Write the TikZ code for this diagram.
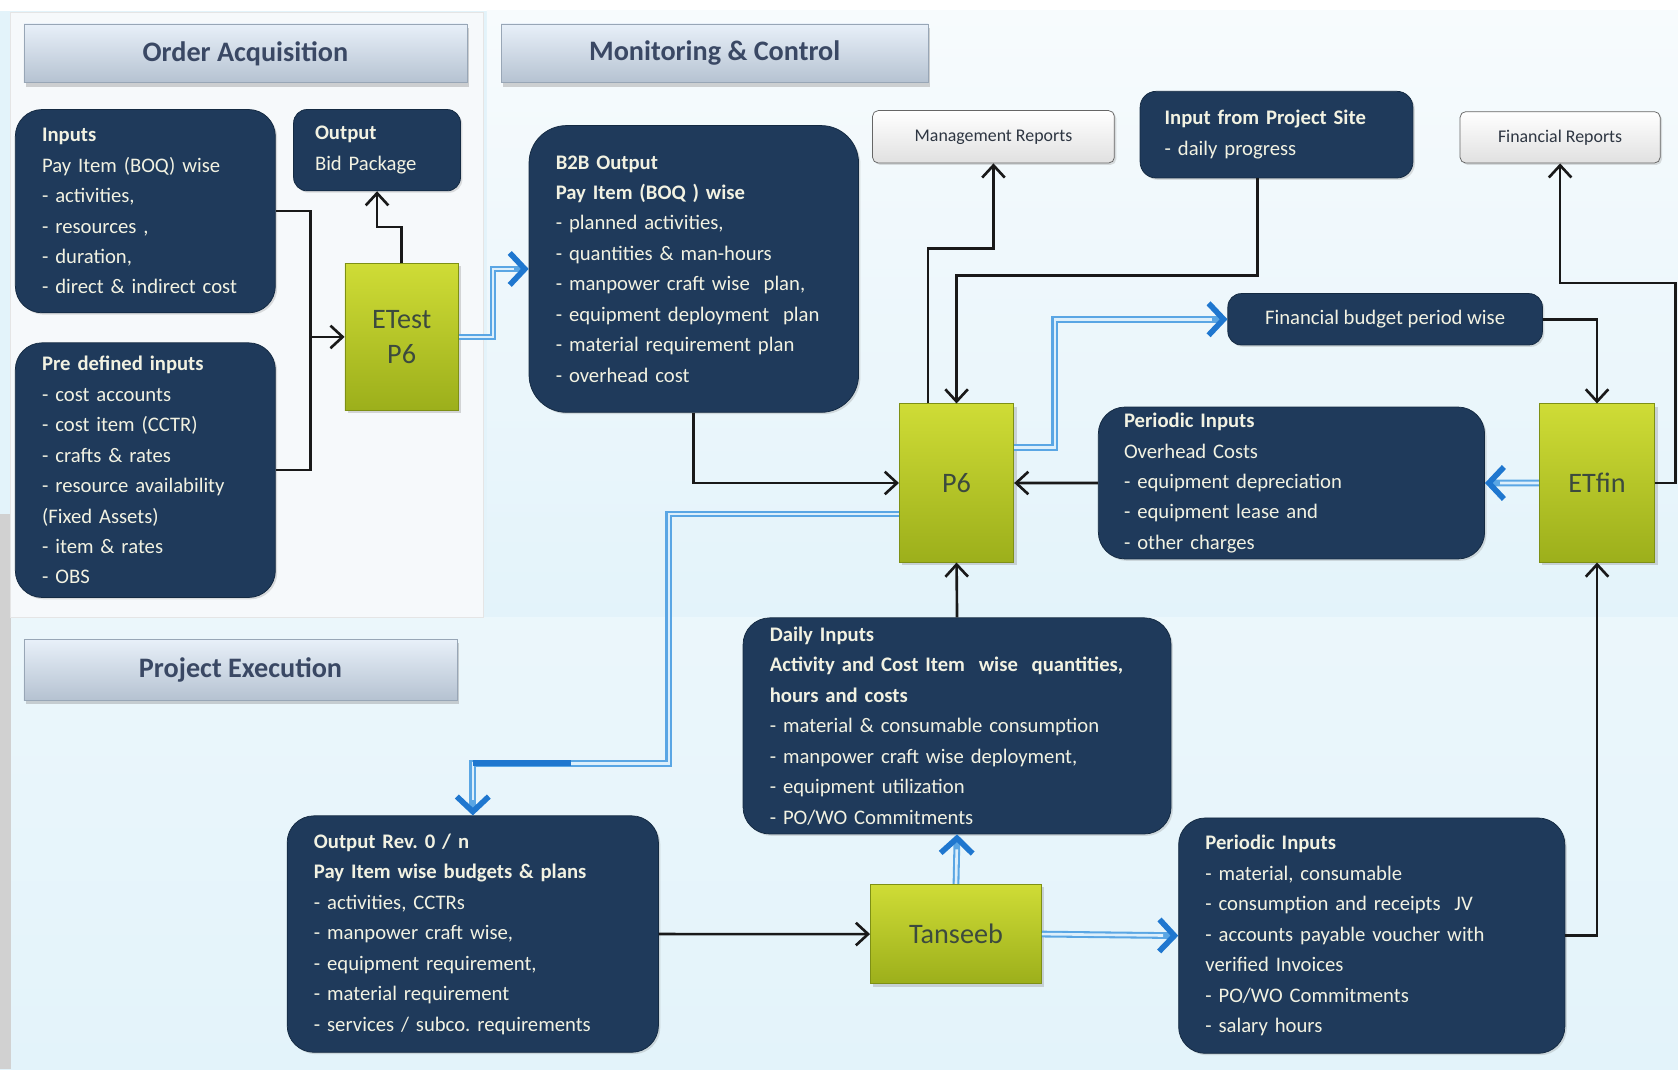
\documentclass[tikz,border=0pt]{standalone}
\usepackage{fontspec}
\setmainfont{Carlito}
\usetikzlibrary{arrows.meta,shadows}
\frenchspacing

\definecolor{boxblue}{HTML}{1F3A5B}
\definecolor{boxline}{HTML}{142A42}
\definecolor{boxtext}{HTML}{F2F2E2}
\definecolor{greentop}{HTML}{CFDC36}
\definecolor{greenbot}{HTML}{9CAF1B}
\definecolor{greenline}{HTML}{7E9015}
\definecolor{greentext}{HTML}{3C4A3E}
\definecolor{headtop}{HTML}{E8F0F9}
\definecolor{headbot}{HTML}{B5C2D1}
\definecolor{headline}{HTML}{98A6B6}
\definecolor{headtext}{HTML}{3A4864}
\definecolor{reptext}{HTML}{2E3642}
\definecolor{lineblue}{HTML}{5AA6E4}
\definecolor{linepale}{HTML}{DDEFFB}
\definecolor{arrowblue}{HTML}{1F77CF}
\definecolor{skytop}{HTML}{F7FBFD}
\definecolor{skybot}{HTML}{E3F3FA}
\definecolor{panel}{HTML}{F6F9FB}

\tikzset{
  darkbox/.style={draw=boxline, fill=boxblue, text=boxtext, rounded corners=0.5cm,
    anchor=north west, align=left, inner xsep=0.5cm, inner ysep=3pt,
    font=\fontsize{11}{16.2}\selectfont,
    drop shadow={shadow xshift=1pt, shadow yshift=-1pt, opacity=0.25}},
  greenbox/.style={draw=greenline, top color=greentop, bottom color=greenbot,
    anchor=north west, text=greentext, align=center, inner sep=2pt,
    font=\fontsize{15}{19}\selectfont,
    drop shadow={shadow xshift=1.5pt, shadow yshift=-1.5pt, opacity=0.3}},
  headbox/.style={draw=headline, top color=headtop, bottom color=headbot,
    anchor=north west, text=headtext, inner sep=2pt,
    font=\fontsize{15}{17}\selectfont\bfseries,
    drop shadow={shadow xshift=1pt, shadow yshift=-2pt, opacity=0.35}},
  repbox/.style={draw=black!60, top color=white, bottom color=black!12,
    rounded corners=3pt, anchor=north west, text=reptext, inner sep=2pt,
    font=\fontsize{9.5}{11}\selectfont,
    drop shadow={shadow xshift=1pt, shadow yshift=-1pt, opacity=0.25}},
  wire/.style={draw=black!90, line width=1.4pt},
  arr/.style={wire, -{Straight Barb[length=6.5pt, width=12pt]}},
  blu/.style={draw=lineblue, line width=3.6pt,
    -{Straight Barb[length=8pt, width=17pt, line width'=3pt, color=arrowblue]},
    postaction={draw=linepale, line width=1.4pt, -, shorten >=8pt}}
}

\begin{document}
\begin{tikzpicture}[x=0.02cm, y=-0.02cm]
  \useasboundingbox (0,0) rectangle (1568,999);

  % backgrounds
  \fill[white] (0,0) rectangle (1568,999);
  \fill[skybot] (0,10) rectangle (1568,999);
  \shade[top color=skytop, bottom color=skybot] (455,10) rectangle (1568,577);
  \shade[top color=skybot!70!white, bottom color=skybot] (0,577) rectangle (1568,999);
  \fill[black!18] (0,480) rectangle (10,999);
  \filldraw[fill=panel, draw=black!10] (10,12) rectangle (452,577);

  % section headers
  \node (headorder) [headbox, minimum width=8.28cm, minimum height=1.1cm] at (22,22) {Order Acquisition};
  \node (headmon) [headbox, minimum width=7.98cm, minimum height=1.1cm] at (468,22) {Monitoring \& Control};
  \node (headexec) [headbox, minimum width=8.1cm, minimum height=1.14cm] at (22,597) {Project Execution};

  % order acquisition
  \node (inputs) [darkbox, text width=3.86cm, minimum height=3.8cm] at (14,102) {\textbf{Inputs}\\
    Pay Item (BOQ) wise\\ - activities,\\ - resources ,\\ - duration,\\ - direct \& indirect cost};
  \node (output) [darkbox, rounded corners=0.25cm, inner xsep=0.4cm, text width=2.32cm, minimum height=1.52cm] at (274,102) {\textbf{Output}\\ Bid Package};
  \node (predef) [darkbox, text width=3.86cm, minimum height=4.76cm] at (14,320) {\textbf{Pre defined inputs}\\
    - cost accounts\\ - cost item (CCTR)\\ - crafts \& rates\\ - resource availability\\ (Fixed Assets)\\ - item \& rates\\ - OBS};
  \node (etest) [greenbox, minimum width=2.12cm, minimum height=2.74cm] at (322,246) {ETest\\ P6};

  % monitoring and control
  \node (b2b) [darkbox, rounded corners=0.7cm, text width=5.16cm, minimum height=5.36cm] at (494,117) {\textbf{B2B Output}\\
    \textbf{Pay Item (BOQ ) wise}\\ - planned activities,\\ - quantities \& man-hours\\ - manpower craft wise\ \ plan,\\
    - equipment deployment\ \ plan\\ - material requirement plan\\ - overhead cost};
  \node (mgmt) [repbox, minimum width=4.52cm, minimum height=0.98cm] at (815,103) {Management Reports};
  \node (site) [darkbox, rounded corners=0.3cm, inner xsep=0.46cm, text width=4.18cm, minimum height=1.62cm] at (1065,85) {\textbf{Input from Project Site}\\ - daily progress};
  \node (finrep) [repbox, minimum width=3.74cm, minimum height=0.96cm] at (1364,104) {Financial Reports};
  \node (budget) [darkbox, rounded corners=0.25cm, align=center, inner xsep=2pt, minimum width=5.88cm, minimum height=0.96cm] at (1147,274) {Financial budget period wise};
  \node (p6) [greenbox, minimum width=2.14cm, minimum height=2.96cm] at (840,377) {P6};
  \node (overhead) [darkbox, text width=6.26cm, inner xsep=0.48cm, minimum height=2.84cm] at (1026,380) {\textbf{Periodic Inputs}\\
    Overhead Costs\\ - equipment depreciation\\ - equipment lease and\\ - other charges};
  \node (etfin) [greenbox, minimum width=2.16cm, minimum height=2.96cm] at (1438,377) {ETfin};

  % project execution
  \node (daily) [darkbox, text width=7cm, minimum height=4.04cm] at (694,577) {\textbf{Daily Inputs}\\
    \textbf{Activity and Cost Item\ \ wise\ \ quantities,}\\ \textbf{hours and costs}\\
    - material \& consumable consumption\\ - manpower craft wise deployment,\\ - equipment utilization\\ - PO/WO Commitments};
  \node (outrev) [darkbox, text width=5.94cm, minimum height=4.42cm] at (268,762) {\textbf{Output Rev. 0 / n}\\
    \textbf{Pay Item wise budgets \& plans}\\ - activities, CCTRs\\ - manpower craft wise,\\ - equipment requirement,\\
    - material requirement\\ - services / subco. requirements};
  \node (tanseeb) [greenbox, minimum width=3.2cm, minimum height=1.86cm] at (813,826) {Tanseeb};
  \node (periodic) [darkbox, text width=6.22cm, minimum height=4.4cm] at (1101,764) {\textbf{Periodic Inputs}\\
    - material, consumable\\ - consumption and receipts\ \ JV\\ - accounts payable voucher with\\ verified Invoices\\
    - PO/WO Commitments\\ - salary hours};

  % inputs into ETest
  \path (etest.west) ++(-32,0) coordinate (fork);
  \draw[wire] (inputs.east) -| (fork) |- (predef.east);
  \draw[arr] (fork) -- (etest.west);
  \draw[arr] (etest.north) -- ++(0,-34) -| (output.south);
  \draw[blu] (etest.east) -- ++(32,0) |- (b2b.west);

  % around P6
  \draw[arr] (b2b.south) |- (p6.west);
  \draw[arr] ([xshift=0.54cm]p6.north west) -- ++(0,-145) -| (mgmt.south);
  \draw[arr] ([xshift=-0.35cm]site.south) -- ++(0,91) -| (p6.north);
  \draw[blu] ([yshift=0.66cm]p6.east) -- ++(38,0) |- (budget.west);
  \draw[arr] (overhead.west) -- (p6.east);
  \draw[arr] (daily.north) -- (p6.south);

  % around ETfin
  \draw[arr] (budget.east) -| (etfin.north);
  \draw[arr] (etfin.east) -- ++(19,0) -- ++(0,-187) -| (finrep.south);
  \draw[blu] (etfin.west) -- (overhead.east);
  \draw[arr] (periodic.east) -| (etfin.south);

  % execution flow
  \draw[blu] ([yshift=-0.58cm]p6.west) -- ++(-215,0) -- ++(0,233) -| (outrev.north);
  \draw[arrowblue, line width=3.6pt] ([yshift=0.98cm]outrev.north) -- ++(92,0);
  \draw[arr] (outrev.east) -- (tanseeb.west);
  \draw[blu] (tanseeb.north) -- (daily.south);
  \draw[blu] (tanseeb.east) -- (periodic.west);

\end{tikzpicture}
\end{document}
